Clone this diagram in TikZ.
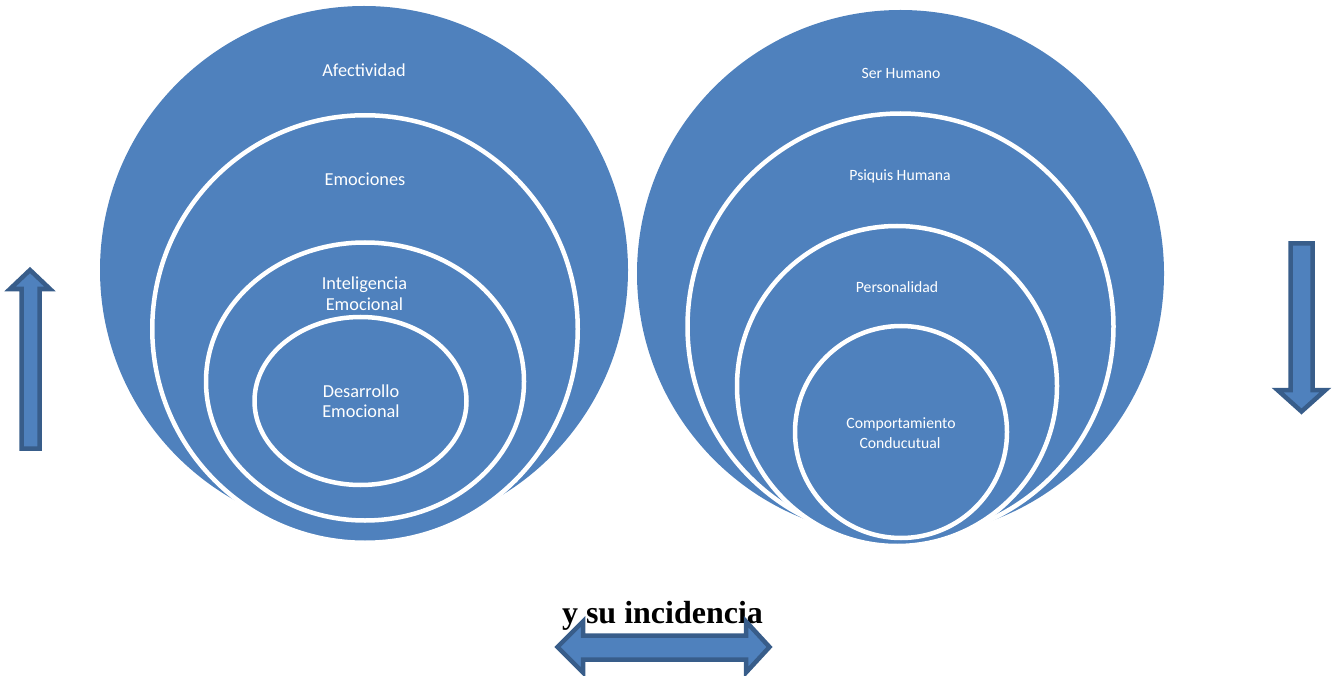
\documentclass[tikz,border=0pt]{standalone}
\usepackage{fontspec}
\setmainfont{Carlito}
\newfontfamily\serifbold{Liberation Serif}
\definecolor{acc}{HTML}{4F81BD}
\definecolor{accdark}{HTML}{385D8A}
\begin{document}
\begin{tikzpicture}[x=1pt,y=-1pt,
  disc/.style={fill=acc},
  ring/.style={fill=acc,draw=white,line width=4.5pt},
  lbig/.style={text=white,font=\fontsize{18.3}{20}\selectfont,anchor=base,inner sep=0pt},
  lsmall/.style={text=white,font=\fontsize{15.7}{19}\selectfont,anchor=base,inner sep=0pt},
  arr/.style={fill=acc,draw=accdark,line width=4.5pt,line join=miter}]
\useasboundingbox (0,0) rectangle (1338,676);
% left nested set
\path[disc] (364,270) circle [radius=264pt];
\path[ring] (365,329) ellipse [x radius=212.75pt, y radius=213.75pt];
\path[ring] (365,381.5) ellipse [x radius=159pt, y radius=139pt];
\path[ring] (360.5,401) ellipse [x radius=106pt, y radius=84pt];
% right nested set
\path[disc] (900.5,273.5) circle [radius=263.5pt];
\path[ring] (900.5,326.5) circle [radius=213pt];
\path[ring] (897,386) circle [radius=160pt];
\path[ring] (901,432) circle [radius=106pt];
% labels left
\node[lbig] (afe) at (364,76.5) {Afectividad};
\node[lbig] (emo) at (365,186) {Emociones};
\node[lbig] (int1) at (364.5,290) {Inteligencia};
\node[lbig] (int2) at (364.5,310) {Emocional};
\node[lbig] (des1) at (361,397.5) {Desarrollo};
\node[lbig] (des2) at (361,417.5) {Emocional};
% labels right
\node[lsmall] (ser) at (901,79) {Ser Humano};
\node[lsmall] (psi) at (900,181) {Psiquis Humana};
\node[lsmall] (per) at (897,292) {Personalidad};
\node[lsmall] (com1) at (901,428.5) {Comportamiento};
\node[lsmall] (com2) at (900,448) {Conducutual};
% bottom text
\node[font=\serifbold\bfseries\fontsize{32}{36}\selectfont,anchor=base,inner sep=0pt] (inc) at (662.5,623) {y su incidencia};
% arrows
\draw[arr] (21.5,448.5) -- (21.5,289) -- (10,289) -- (30,270) -- (50,289) -- (39.5,289) -- (39.5,448.5) -- cycle;
\draw[arr] (1290.5,243.5) -- (1312.5,243.5) -- (1312.5,390) -- (1325.5,390) -- (1301.5,411.5) -- (1277.5,390) -- (1290.5,390) -- cycle;
\draw[arr] (557.5,647) -- (583,621.5) -- (583,635.5) -- (746,635.5) -- (746,621.5) -- (769.5,647) -- (746,672.5) -- (746,659.5) -- (583,659.5) -- (583,672.5) -- cycle;
\end{tikzpicture}
\end{document}
